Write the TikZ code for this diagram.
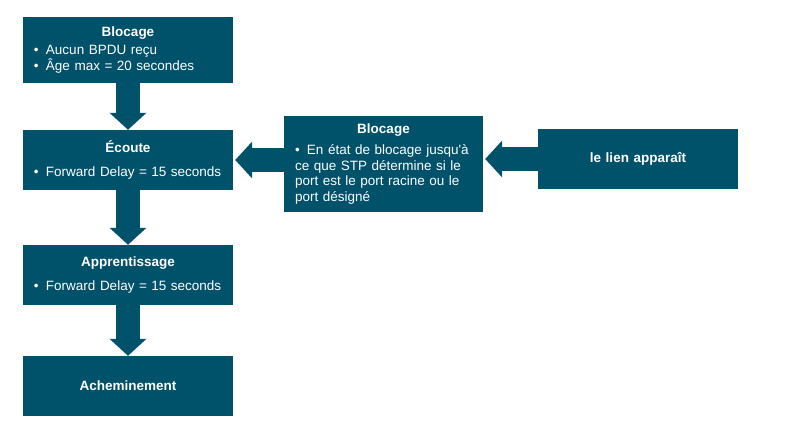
\documentclass[tikz,border=0pt]{standalone}
\usepackage{fontspec}
\setmainfont{Liberation Sans}
\usetikzlibrary{arrows.meta}
\definecolor{stp_blue}{RGB}{0, 81, 106}
\tikzstyle{sb}=[rectangle,fill=stp_blue,text=white,inner xsep=11pt,inner ysep=4pt,
  minimum width=210pt,text width=188pt,
  font=\fontsize{13.5}{15.5}\selectfont]
\tikzstyle{flow}=[draw=stp_blue,line width=24pt,-{Triangle[width=36pt,length=17pt]}]
\newcommand{\sttitle}[1]{{\centering\bfseries #1\par}}
\newcommand{\stitem}{\par\noindent\hangindent=12pt\hangafter=1\raggedright
  \makebox[12pt][l]{\textbullet}}

\begin{document}
\begin{tikzpicture}[x=1pt, y=-1pt]
    \useasboundingbox (0,0) rectangle (790,424);
    \node [style=sb, minimum height=66pt] (1) at (128, 50) {\sttitle{Blocage}\vspace{3pt}%
      \stitem Aucun BPDU reçu
      \stitem Âge max = 20 secondes};
    \node [style=sb, minimum height=60pt] (2) at (128, 160) {\sttitle{Écoute}\vspace{8pt}%
      \stitem Forward Delay = 15 seconds};
    \node [style=sb, minimum height=60pt] (3) at (128, 275) {\sttitle{Apprentissage}\vspace{8pt}%
      \stitem Forward Delay = 15 seconds};
    \node [style=sb, minimum height=60pt] (4) at (128, 386) {\sttitle{Acheminement}};
    \node [style=sb, minimum width=199pt, text width=177pt, minimum height=96pt] (5) at (383.5, 164)
      {\sttitle{Blocage}\vspace{6pt}%
      \stitem En état de blocage jusqu\textquotesingle à\\ ce que STP détermine si le\\
      port est le port racine ou le\\ port désigné};
    \node [style=sb, minimum width=200pt, text width=178pt, minimum height=60pt] (6) at (638, 159)
      {\sttitle{le lien apparaît}};
    \draw [style=flow] (1) to (2);
    \draw [style=flow] (2) to (3);
    \draw [style=flow] (3) to (4);
    \draw [style=flow, shorten >=2pt] (6.west) to (6.west -| 5.east);
    \draw [style=flow, shorten >=2pt] (5.west |- 2.east) to (2.east);
\end{tikzpicture}
\end{document}
